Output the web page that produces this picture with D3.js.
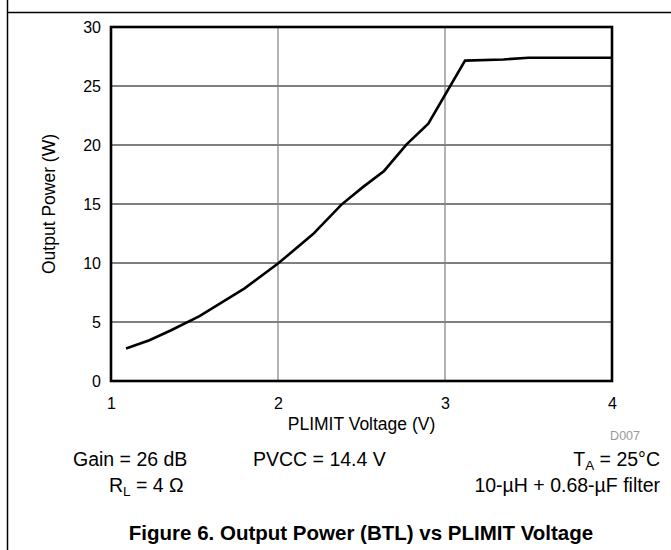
<!DOCTYPE html>
<html><head><meta charset="utf-8">
<script src="https://cdn.jsdelivr.net/npm/d3@7"></script>
<style>body{margin:0;background:#fff}svg{display:block}text{font-family:"Liberation Sans",Arial,sans-serif}</style>
</head><body>
<svg id="c" width="671" height="550"></svg>
<script>
const voltage = [1.09, 1.23, 1.36, 1.53, 1.8, 2.0, 2.21, 2.38, 2.51, 2.635, 2.77, 2.9, 3.12, 3.35, 3.5, 4.0];
const power   = [2.75, 3.45, 4.3, 5.5, 7.85, 9.95, 12.45, 14.95, 16.45, 17.8, 20.05, 21.8, 27.15, 27.25, 27.4, 27.4];
const xTicks = [1, 2, 3, 4];
const yTicks = [0, 5, 10, 15, 20, 25, 30];

const svg = d3.select("#c");
const L = 111, R = 612, T = 27, B = 381;
const x = d3.scaleLinear().domain([1, 4]).range([L, R]);
const y = d3.scaleLinear().domain([0, 30]).range([B, T]);

// page frame
svg.append("line").attr("x1", 7.5).attr("x2", 7.5).attr("y1", 0).attr("y2", 550).attr("stroke", "#000").attr("stroke-width", 1.5);
svg.append("line").attr("x1", 7.5).attr("x2", 671).attr("y1", 12.5).attr("y2", 12.5).attr("stroke", "#000").attr("stroke-width", 1.5);

// grid
const g = svg.append("g");
g.selectAll(".hg").data(yTicks.slice(1, -1)).join("line")
  .attr("x1", L).attr("x2", R).attr("y1", d => y(d)).attr("y2", d => y(d))
  .attr("stroke", "#000").attr("stroke-width", 1);
g.selectAll(".vg").data(xTicks.slice(1, -1)).join("line")
  .attr("y1", T).attr("y2", B).attr("x1", d => x(d)).attr("x2", d => x(d))
  .attr("stroke", "#808080").attr("stroke-width", 1.2);

// axes labels via d3 axes (no tick lines)
const yAxis = svg.append("g").attr("transform", `translate(${L - 10},0)`)
  .call(d3.axisLeft(y).tickValues(yTicks).tickSize(0).tickPadding(0));
yAxis.attr("font-size", null).attr("font-family", null);
yAxis.select(".domain").remove();
yAxis.selectAll("text").style("font-size", "16px").attr("fill", "#000");

const xAxis = svg.append("g").attr("transform", `translate(0,${B + 17})`)
  .call(d3.axisBottom(x).tickValues(xTicks).tickSize(0).tickPadding(0).tickFormat(d3.format("d")));
xAxis.attr("font-size", null).attr("font-family", null);
xAxis.select(".domain").remove();
xAxis.selectAll("text").style("font-size", "16px").attr("fill", "#000");

// line
const line = d3.line().x((d, i) => x(voltage[i])).y(d => y(d));
svg.append("path").datum(power).attr("d", line).attr("fill", "none")
  .attr("stroke", "#000").attr("stroke-width", 2.6).attr("stroke-linejoin", "miter");

// border
svg.append("rect").attr("x", L).attr("y", T).attr("width", R - L).attr("height", B - T)
  .attr("fill", "none").attr("stroke", "#000").attr("stroke-width", 2.6);

// titles
svg.append("text").attr("x", (L + R) / 2).attr("y", 430).attr("text-anchor", "middle")
  .style("font-size", "17.5px").text("PLIMIT Voltage (V)");
svg.append("text").attr("transform", `translate(55,${(T + B) / 2}) rotate(-90)`).attr("text-anchor", "middle")
  .style("font-size", "17.5px").text("Output Power (W)");
svg.append("text").attr("x", 640).attr("y", 440).attr("text-anchor", "end")
  .style("font-size", "12.5px").attr("fill", "#999").text("D007");

svg.append("text").attr("x", 73).attr("y", 466).style("font-size", "19.5px").text("Gain = 26 dB");
svg.append("text").attr("x", 253).attr("y", 466).style("font-size", "19.5px").text("PVCC = 14.4 V");
const ta = svg.append("text").attr("x", 660).attr("y", 466).attr("text-anchor", "end").style("font-size", "19.5px");
ta.append("tspan").text("T");
ta.append("tspan").style("font-size", "13.5px").attr("dy", 4).text("A");
ta.append("tspan").attr("dy", -4).text(" = 25°C");
const rl = svg.append("text").attr("x", 109).attr("y", 492).style("font-size", "19.5px");
rl.append("tspan").text("R");
rl.append("tspan").style("font-size", "13.5px").attr("dy", 4).text("L");
rl.append("tspan").attr("dy", -4).text(" = 4 Ω");
svg.append("text").attr("x", 660).attr("y", 492).attr("text-anchor", "end").style("font-size", "19.5px").text("10-µH + 0.68-µF filter");

svg.append("text").attr("x", 361).attr("y", 540).attr("text-anchor", "middle")
  .style("font-size", "20.5px").attr("font-weight", "bold").text("Figure 6. Output Power (BTL) vs PLIMIT Voltage");
</script>
</body></html>
